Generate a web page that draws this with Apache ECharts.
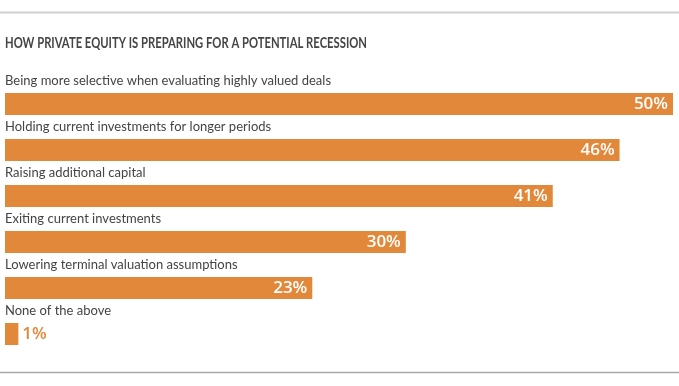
<!DOCTYPE html>
<html>
<head>
<meta charset="utf-8">
<script src="https://cdn.jsdelivr.net/npm/echarts@6/dist/echarts.min.js"></script>
<style>html,body{margin:0;padding:0;background:#fff;}#chart{width:679px;height:386px;}</style>
</head>
<body>
<div id="chart"></div>
<script>
const title = 'HOW PRIVATE EQUITY IS PREPARING FOR A POTENTIAL RECESSION';
const categories = [
  'Being more selective when evaluating highly valued deals',
  'Holding current investments for longer periods',
  'Raising additional capital',
  'Exiting current investments',
  'Lowering terminal valuation assumptions',
  'None of the above'
];
const values = [50, 46, 41, 30, 23, 1];

const ORANGE = '#E1883A';
const chart = echarts.init(document.getElementById('chart'), null, {renderer: 'canvas'});

const data = values.map((v, i) => {
  const small = v < 5;
  return {
    value: v,
    label: small ? {position: 'right', color: ORANGE, distance: 4} : {}
  };
});

// measure title width to fit the condensed look of the reference
const TITLE_FONT = 'bold 15px Lato, "Noto Sans", sans-serif';
const cv = document.createElement('canvas').getContext('2d');
cv.font = TITLE_FONT;
const tw = cv.measureText(title).width;
const titleScale = 362 / tw;

chart.setOption({
  animation: false,
  backgroundColor: '#fff',
  grid: {left: 5, right: 6, top: 81, bottom: 29, containLabel: false},
  xAxis: {type: 'value', min: 0, max: 50, show: false},
  yAxis: {type: 'category', data: categories, inverse: true, show: false},
  graphic: [
    {type: 'line', shape: {x1: 0, y1: 12.5, x2: 679, y2: 12.5}, style: {stroke: '#d0d0d0', lineWidth: 2}},
    {type: 'line', shape: {x1: 0, y1: 372.5, x2: 679, y2: 372.5}, style: {stroke: '#a8a8a8', lineWidth: 1.5}},
    {type: 'text', x: 5, y: 36, scaleX: titleScale, style: {text: title, fill: '#454545', font: TITLE_FONT}}
  ],
  series: [
    {
      type: 'bar',
      data: values,
      barWidth: 22,
      itemStyle: {color: 'rgba(0,0,0,0)'},
      silent: true,
      label: {
        show: true,
        position: [0, -12],
        align: 'left',
        verticalAlign: 'middle',
        color: '#444',
        fontFamily: 'Lato',
        fontSize: 13,
        formatter: p => categories[p.dataIndex]
      },
      z: 3
    },
    {
      type: 'bar',
      data: data,
      barWidth: 22,
      barGap: '-100%',
      itemStyle: {color: ORANGE},
      label: {
        show: true,
        position: 'insideRight',
        distance: 5,
        color: '#fff',
        fontFamily: 'Open Sans',
        fontWeight: 600,
        fontSize: 17,
        formatter: p => p.value + '%'
      },
      z: 2
    }
  ]
});
</script>
</body>
</html>
